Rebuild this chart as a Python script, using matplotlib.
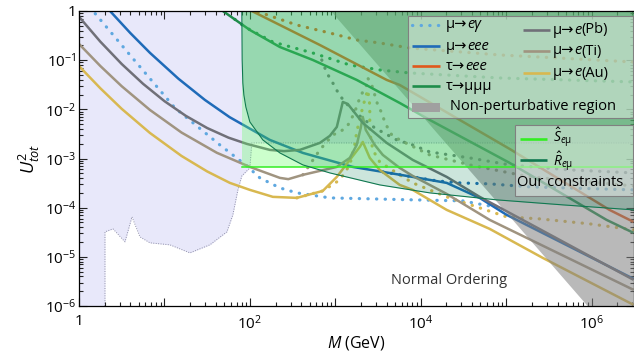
import numpy as np
import matplotlib
matplotlib.use("Agg")
import matplotlib.pyplot as plt
from matplotlib.lines import Line2D
from matplotlib.patches import Rectangle
from matplotlib.text import Annotation
from matplotlib.ticker import FixedLocator, LogLocator, NullFormatter

plt.rcParams['font.family'] = ['Open Sans', 'DejaVu Sans']
plt.rcParams['mathtext.fontset'] = 'custom'
plt.rcParams['mathtext.rm'] = 'Open Sans'
plt.rcParams['mathtext.it'] = 'Open Sans:italic'
plt.rcParams['mathtext.bf'] = 'Open Sans:bold'

# values, as log10(M/GeV) and log10(U^2_tot)
meg_lm = [0.125, 0.164, 0.596, 1.123, 1.649, 1.965, 2.117, 2.351, 2.550, 2.936, 3.906, 4.491, 4.924]
meg_lu = [0.08, 0.0, -0.894, -1.972, -2.724, -3.150, -3.394, -3.598, -3.699, -3.801, -3.841, -3.862, -4.004]

meee_lm = [0.32, 0.363, 0.6, 0.83, 1.163, 1.474, 1.763, 1.977, 2.234, 2.620, 3.205, 3.556, 3.906, 4.304, 4.690, 5.006, 6.491]
meee_lu = [0.084, 0.0, -0.447, -0.85, -1.376, -1.809, -2.159, -2.37, -2.622, -2.886, -3.171, -3.272, -3.374, -3.496, -3.801, -4.146, -5.447]
meee_d_lm = [3.556, 3.906, 4.187, 4.456, 4.807, 5.275, 6.491]
meee_d_lu = [-3.272, -3.374, -3.455, -3.496, -3.516, -3.577, -3.638]

tee_lm = [1.95, 2.023, 2.819, 3.602, 3.754, 4.456, 5.041, 6.210, 6.491]
tee_lu = [0.063, 0.0, -0.691, -1.402, -1.504, -2.215, -2.805, -4.045, -4.289]
tee_d_lm = [2.0, 2.07, 2.140, 2.550, 2.936, 3.251, 3.520, 3.871, 4.924, 6.491]
tee_d_lu = [0.04, 0.0, -0.041, -0.285, -0.447, -0.589, -0.650, -0.752, -0.894, -1.037]

tmm_lm = [1.64, 1.684, 2.0, 2.351, 2.737, 3.251, 3.754, 4.105, 5.041, 6.175, 6.491]
tmm_lu = [0.05, 0.0, -0.386, -0.732, -0.996, -1.402, -1.870, -2.215, -3.089, -4.248, -4.512]
tmm_d_lm = [1.825, 1.942, 2.269, 2.737, 3.170, 3.520, 3.871, 4.924, 6.491]
tmm_d_lu = [-0.17, -0.325, -0.630, -0.854, -1.098, -1.199, -1.260, -1.362, -1.443]

pb_lm = [0.0, 0.25, 0.5, 0.75, 1.0, 1.25, 1.5, 1.75, 1.965, 2.234, 2.4, 2.585, 2.819, 2.936, 3.018, 3.088, 3.146, 3.322, 3.602, 3.906, 4.304, 4.690, 5.041, 6.491]
pb_lu = [-0.117, -0.624, -1.078, -1.481, -1.833, -2.132, -2.380, -2.576, -2.703, -2.825, -2.85, -2.825, -2.683, -2.54, -2.358, -1.850, -1.890, -2.276, -2.683, -3.028, -3.374, -3.780, -4.106, -5.467]
pb_d_lm = [2.842, 2.901, 2.971, 3.041, 3.111, 3.228, 3.462, 3.719, 3.906, 4.105, 4.573, 5.041, 5.743, 6.491]
pb_d_lu = [-0.996, -1.260, -1.463, -1.687, -1.850, -2.053, -2.378, -2.622, -2.724, -2.866, -2.988, -3.130, -3.232, -3.293]

ti_lm = [0.0, 0.25, 0.5, 0.83, 1.2, 1.614, 2.0, 2.351, 2.45, 2.620, 3.018, 3.170, 3.251, 3.298, 3.322, 3.357, 3.462, 3.556, 3.754, 3.906, 4.304, 4.807, 6.491]
ti_lu = [-0.67, -1.119, -1.53, -2.012, -2.472, -2.884, -3.171, -3.394, -3.42, -3.333, -3.171, -2.988, -2.724, -2.378, -2.154, -2.419, -2.724, -2.927, -3.191, -3.354, -3.720, -4.248, -5.671]
ti_d_lm = [2.620, 2.819, 2.971, 3.053, 3.135, 3.170, 3.228, 3.287, 3.322, 3.368, 3.380, 3.427, 3.462, 3.497, 3.544, 3.579, 3.614, 3.661, 3.754, 4.105, 4.573, 5.275, 6.491]
ti_d_lu = [-3.333, -2.825, -2.520, -2.459, -2.358, -2.256, -2.053, -1.768, -1.646, -1.504, -1.362, -1.504, -1.707, -1.911, -2.073, -2.256, -2.378, -2.520, -2.622, -2.927, -3.130, -3.374, -3.557]

au_lm = [0.0, 0.25, 0.5, 0.83, 1.2, 1.5, 1.766, 2.0, 2.269, 2.550, 2.854, 3.018, 3.170, 3.287, 3.322, 3.404, 3.520, 3.754, 3.906, 4.304, 4.807, 5.427, 6.491]
au_lu = [-1.12, -1.572, -1.99, -2.48, -2.948, -3.263, -3.496, -3.638, -3.780, -3.801, -3.659, -3.374, -3.028, -2.764, -2.663, -2.988, -3.232, -3.537, -3.638, -4.045, -4.431, -5.020, -5.976]
au_d_lm = [2.550, 2.854, 3.053, 3.170, 3.228, 3.251, 3.298, 3.345, 3.380, 3.404, 3.404, 3.439, 3.520, 3.754, 3.906, 4.304, 4.690, 5.006, 5.392, 5.977, 6.491]
au_d_lu = [-3.801, -3.659, -3.435, -3.130, -2.724, -2.459, -2.114, -1.809, -1.606, -1.911, -2.459, -2.825, -3.069, -3.333, -3.496, -3.780, -4.004, -4.187, -4.228, -4.329, -4.451]

# our constraints
r_lm = [1.906, 1.910, 1.918, 1.930, 1.953, 2.0, 2.152, 2.351, 2.620, 2.936, 3.520, 4.105, 4.889, 5.661, 6.491]
r_lu = [0.0, -0.996, -1.463, -1.707, -1.95, -2.256, -2.622, -2.886, -3.130, -3.293, -3.537, -3.699, -3.841, -3.943, -4.045]
s_lm = [1.906, 6.491]
s_lu = [-3.171, -3.171]

# existing bounds (lavender) lower edge
ex_lm = [0.0, 0.304, 0.304, 0.398, 0.538, 0.620, 0.713, 0.830, 1.064, 1.298, 1.532, 1.731, 1.801, 1.860, 1.906, 2.0, 2.023, 6.491]
ex_lu = [-6.0, -6.0, -4.492, -4.431, -4.695, -4.187, -4.593, -4.715, -4.756, -4.919, -4.756, -4.492, -4.146, -3.638, -3.354, -3.191, -2.683, -2.683]

# non-perturbative region lower edge
np_lm = [2.947, 5.953, 6.491]
np_lu = [0.0, -6.0, -6.0]

c_meg = '#5fa8e0'
c_meee = '#1f6bb8'
c_tee = '#e0581c'
c_tmm = '#1e8c4a'
c_pb = '#707078'
c_ti = '#a09480'
c_au = '#d8b850'
c_s = '#33ee22'
c_r = '#107850'
c_np = '#a0a0a0'


def pw(a):
    return 10.0 ** np.asarray(a, dtype=float)


fig = plt.figure(figsize=(6.34, 3.52), dpi=100)
ax = fig.add_axes([79 / 634, 1 - 306 / 352, 554.5 / 634, 295 / 352])
ax.set_xscale('log')
ax.set_yscale('log')
xmax = pw(6.491)
ax.set_xlim(1, xmax)
ax.set_ylim(1e-6, 1)

# regions
ax.fill_between(pw(ex_lm), pw(ex_lu), 1, color='#e8e8fa', lw=0, zorder=0.5)
ax.plot(pw(ex_lm[1:]), pw(ex_lu[1:]), color='#9090a8', lw=0.7, ls=(0, (1, 1.5)), zorder=1)

sol = dict(lw=1.8, solid_capstyle='butt', solid_joinstyle='round', zorder=2)
dot_ls = (0, (0.1, 2.6))
dot = dict(lw=2.3, ls=dot_ls, dash_capstyle='round', zorder=2)

ax.plot(pw(meg_lm), pw(meg_lu), color=c_meg, **dot)
ax.plot(pw(meee_d_lm), pw(meee_d_lu), color=c_meee, **dot)
ax.plot(pw(tee_d_lm), pw(tee_d_lu), color=c_tee, **dot)
ax.plot(pw(tmm_d_lm), pw(tmm_d_lu), color=c_tmm, **dot)
ax.plot(pw(pb_d_lm), pw(pb_d_lu), color=c_pb, **dot)
ax.plot(pw(ti_d_lm), pw(ti_d_lu), color=c_ti, **dot)
ax.plot(pw(au_d_lm), pw(au_d_lu), color=c_au, **dot)

ax.plot(pw(meee_lm), pw(meee_lu), color=c_meee, **sol)
ax.plot(pw(tee_lm), pw(tee_lu), color=c_tee, **sol)
ax.plot(pw(tmm_lm), pw(tmm_lu), color=c_tmm, **sol)
ax.plot(pw(au_lm), pw(au_lu), color=c_au, **sol)
ax.plot(pw(ti_lm), pw(ti_lu), color=c_ti, **sol)
ax.plot(pw(pb_lm), pw(pb_lu), color=c_pb, **sol)

ax.fill_between(pw(np_lm), pw(np_lu), 1, color='#808080', alpha=0.55, lw=0, zorder=3)
ax.fill_between(pw(s_lm), pw(s_lu), 1, color='#66ff66', alpha=0.33, lw=0, zorder=3.1)
ax.fill_between(pw(r_lm), pw(r_lu), 1, color='#008050', alpha=0.2, lw=0, zorder=3.2)
ax.plot(pw(s_lm), pw(s_lu), color=c_s, lw=1.1, zorder=3.5)
ax.plot(pw(r_lm), pw(r_lu), color=c_r, lw=0.8, zorder=3.5)

ax.text(0.668, 0.088, 'Normal Ordering', transform=ax.transAxes, ha='center', va='center',
        fontsize=10.5, color='#333333', zorder=4)

# axes styling
ax.xaxis.set_major_locator(FixedLocator(pw(np.arange(0, 7))))
ax.set_xticklabels(['1', '', '$10^2$', '', '$10^4$', '', '$10^6$'])
ax.yaxis.set_major_locator(FixedLocator(pw(np.arange(-6, 1))))
ax.set_yticklabels(['$10^{-6}$', '$10^{-5}$', '$10^{-4}$', '$10^{-3}$', '$10^{-2}$', '$10^{-1}$', '1'])
for a in (ax.xaxis, ax.yaxis):
    a.set_minor_locator(LogLocator(base=10, subs=np.arange(2, 10), numticks=30))
    a.set_minor_formatter(NullFormatter())
ax.tick_params(which='both', direction='in', top=True, right=True, width=0.8, labelsize=11, color='#222222')
ax.tick_params(which='major', length=5.5)
ax.tick_params(which='minor', length=3)
ax.tick_params(axis='x', pad=6)
ax.tick_params(axis='y', pad=2)
for sp in ax.spines.values():
    sp.set_linewidth(0.9)
    sp.set_zorder(6)
ax.set_xlabel('$M$ (GeV)', fontsize=11.5, labelpad=1)
ax.set_ylabel('$U^2_{tot}$', fontsize=13, labelpad=2)


def fx(x):
    return x / 634


def fy(y):
    return 1 - y / 352


# legend frames
for (x0, y0, x1, y1) in [(408, 16, 633, 118), (515, 125, 633, 196)]:
    fig.add_artist(Rectangle((fx(x0), fy(y1)), (x1 - x0) / 634, (y1 - y0) / 352,
                             transform=fig.transFigure, facecolor='#f6f6f6', alpha=0.45,
                             edgecolor='none', zorder=7))
    fig.add_artist(Rectangle((fx(x0), fy(y1)), (x1 - x0) / 634, (y1 - y0) / 352,
                             transform=fig.transFigure, facecolor='none',
                             edgecolor='#808080', lw=0.8, zorder=7))


def handle(x0, x1, y, color, dotted=False):
    kw = dict(lw=2.3, ls=dot_ls, dash_capstyle='round') if dotted else dict(lw=1.9, solid_capstyle='butt')
    fig.add_artist(Line2D([fx(x0), fx(x1)], [fy(y), fy(y)], transform=fig.transFigure,
                          color=color, zorder=9, **kw))


def rich(x, y, parts, size=10.5):
    t = fig.text(fx(x), fy(y), parts[0][0], style=parts[0][1], fontsize=size,
                 ha='left', va='center', zorder=9)
    for s, st in parts[1:]:
        t = fig.add_artist(Annotation(s, xy=(1, 0), xycoords=t, ha='left', va='bottom',
                                      style=st, fontsize=size, zorder=9))
    return t


n, i = 'normal', 'italic'
col1 = [(c_meg, True, [('μ→', n), ('eγ', i)]),
        (c_meee, False, [('μ→', n), ('eee', i)]),
        (c_tee, False, [('τ→', n), ('eee', i)]),
        (c_tmm, False, [('τ→μμμ', n)])]
for (color, dotted, parts), y in zip(col1, [25, 46, 66, 86]):
    handle(412, 440, y, color, dotted)
    rich(446, y, parts)

fig.add_artist(Rectangle((fx(412), fy(112)), 28 / 634, 9 / 352, transform=fig.transFigure,
                         facecolor=c_np, edgecolor='none', zorder=9))
rich(450, 107, [('Non-perturbative region', n)])

col2 = [(c_pb, '(Pb)'), (c_ti, '(Ti)'), (c_au, '(Au)')]
for (color, nuc), y in zip(col2, [30, 51, 73]):
    handle(523, 550, y, color)
    rich(553, y, [('μ→', n), ('e', i), (nuc, n)])

handle(520, 547, 139, c_s)
fig.text(fx(553), fy(137), '$\\hat{S}_{e\\mathrm{\\mu}}$', fontsize=10, ha='left', va='center', zorder=9)
handle(520, 547, 160, c_r)
fig.text(fx(553), fy(161), '$\\hat{R}_{e\\mathrm{\\mu}}$', fontsize=10, ha='left', va='center', zorder=9)
fig.text(fx(517), fy(183), 'Our constraints', fontsize=10.5, ha='left', va='center', zorder=9)

fig.savefig('out.png', dpi=100)
